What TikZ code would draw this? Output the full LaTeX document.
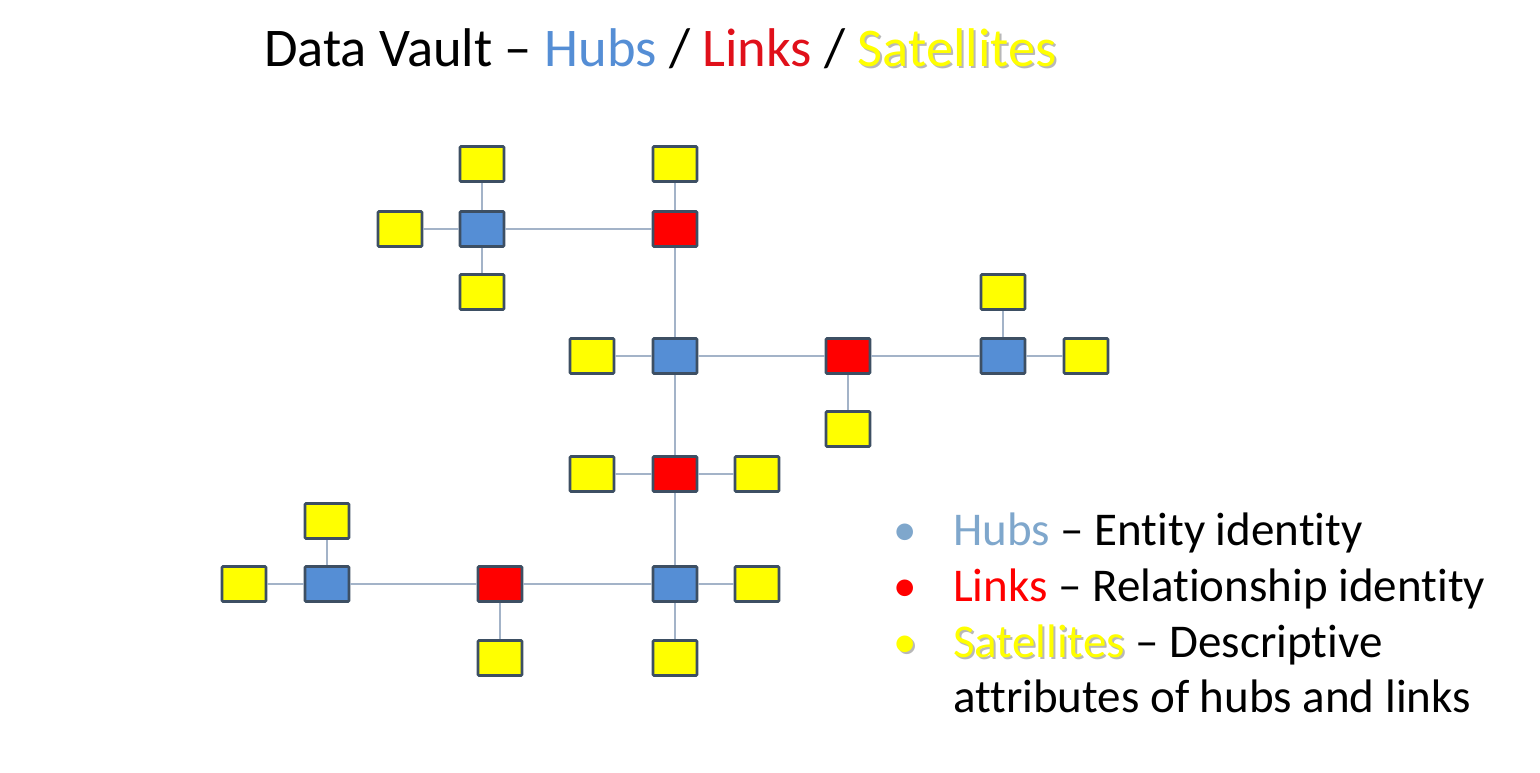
\documentclass[tikz,border=0pt]{standalone}
\usepackage{fontspec}
\setmainfont[RawFeature=-liga]{Carlito}
\definecolor{hubblue}{HTML}{558ED5}
\definecolor{hubleg}{HTML}{7FA7CC}
\definecolor{linkred}{HTML}{FF0000}
\definecolor{titlered}{HTML}{E0101A}
\definecolor{satyellow}{HTML}{FFFF00}
\definecolor{boxedge}{HTML}{3D4F63}
\definecolor{wire}{HTML}{A3B3C8}
\newcommand\shadowtext[2]{\rlap{\hspace{2pt}\raisebox{-2pt}{\textcolor{black!28}{#2}}}\textcolor{#1}{#2}}
\begin{document}
\begin{tikzpicture}[x=1pt,y=-1pt,
  box/.style={draw=boxedge,line width=2.8pt,minimum width=44pt,minimum height=35pt,inner sep=0pt,rounded corners=1pt},
  hub/.style={box,fill=hubblue},
  lnk/.style={box,fill=linkred},
  sat/.style={box,fill=satyellow},
  conn/.style={draw=wire,line width=1.6pt},
  ttl/.style={font=\fontsize{54.5}{60}\selectfont,inner sep=0pt,anchor=base west},
  leg/.style={font=\fontsize{47}{56}\selectfont,inner sep=0pt,anchor=base west}
]
\useasboundingbox (0,0) rectangle (1540,772);
% title
\node[ttl] (title) at (264,66) {Data Vault – \textcolor{hubblue}{Hubs} / \textcolor{titlered}{Links} / \shadowtext{satyellow}{Satellites}};

% nodes
\node[hub] (H1) at (482,229) {};
\node[sat] (S1a) at (482,164) {};
\node[sat] (S1b) at (400,229) {};
\node[sat] (S1c) at (482,292) {};
\node[lnk] (L1) at (675,229) {};
\node[sat] (S2a) at (675,164) {};

\node[hub] (H2) at (675,356) {};
\node[sat] (S3a) at (592,356) {};
\node[lnk] (L2) at (848,356) {};
\node[sat] (S4a) at (848,429) {};
\node[hub] (H3) at (1003,356) {};
\node[sat] (S5a) at (1003,292) {};
\node[sat] (S5b) at (1086,356) {};

\node[lnk] (L3) at (675,474) {};
\node[sat] (S6a) at (592,474) {};
\node[sat] (S6b) at (757,474) {};
\node[hub] (H4) at (675,584) {};
\node[sat] (S7a) at (757,584) {};
\node[sat] (S7b) at (675,658) {};
\node[lnk] (L4) at (500,584) {};
\node[sat] (S8a) at (500,658) {};
\node[hub] (H5) at (327,584) {};
\node[sat] (S9a) at (327,521) {};
\node[sat] (S9b) at (244,584) {};

% connectors
\draw[conn] (H1) -- (L1);
\draw[conn] (H1) -- (S1a);
\draw[conn] (H1) -- (S1b);
\draw[conn] (H1) -- (S1c);
\draw[conn] (L1) -- (S2a);
\draw[conn] (L1) -- (H2);
\draw[conn] (H2) -- (S3a);
\draw[conn] (H2) -- (L2);
\draw[conn] (L2) -- (S4a);
\draw[conn] (L2) -- (H3);
\draw[conn] (H3) -- (S5a);
\draw[conn] (H3) -- (S5b);
\draw[conn] (H2) -- (L3);
\draw[conn] (L3) -- (S6a);
\draw[conn] (L3) -- (S6b);
\draw[conn] (L3) -- (H4);
\draw[conn] (H4) -- (S7a);
\draw[conn] (H4) -- (S7b);
\draw[conn] (H4) -- (L4);
\draw[conn] (L4) -- (S8a);
\draw[conn] (L4) -- (H5);
\draw[conn] (H5) -- (S9a);
\draw[conn] (H5) -- (S9b);

% legend
\node[leg] (b1) at (893,545) {\textcolor{hubleg}{•}};
\node[leg] (l1) at (953,545) {\textcolor{hubleg}{Hubs} – Entity identity};
\node[leg] (b2) at (893,601) {\textcolor{linkred}{•}};
\node[leg] (l2) at (953,601) {\textcolor{linkred}{Links} – Relationship identity};
\node[leg] (b3) at (893,657) {\shadowtext{satyellow}{•}};
\node[leg] (l3) at (953,657) {\shadowtext{satyellow}{Satellites} – Descriptive};
\node[leg] (l4) at (953,712) {attributes of hubs and links};
\end{tikzpicture}
\end{document}
